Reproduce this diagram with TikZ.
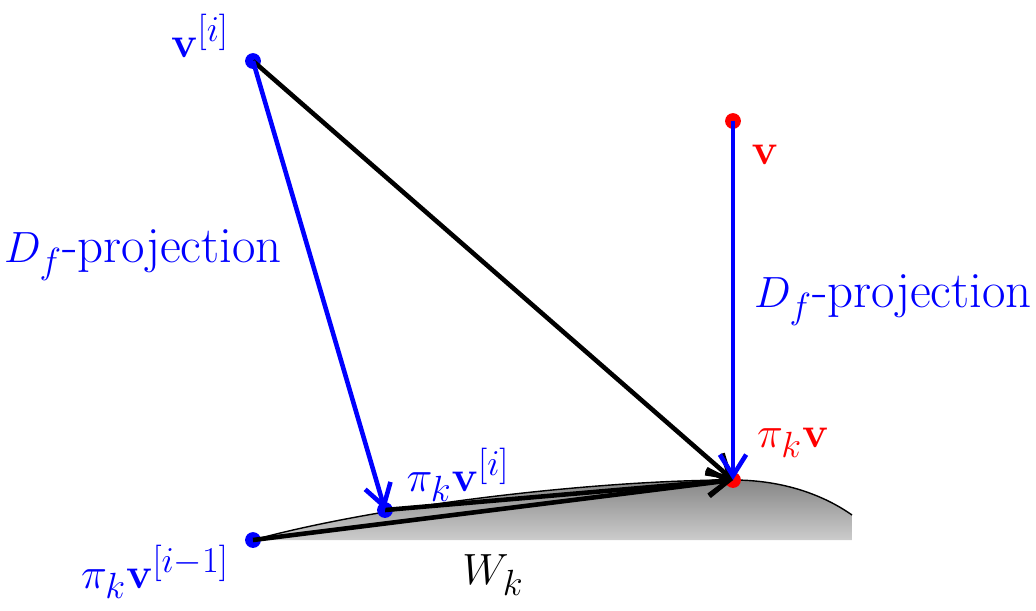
\documentclass[tikz,border=0pt]{standalone}
\usepackage{amsmath}
\usetikzlibrary{arrows.meta}
\tikzset{
  dot/.style={circle,fill,inner sep=0pt,minimum size=9pt},
  proj/.style={-{Straight Barb[length=12pt,width=15pt]},blue,line width=2.6pt},
  link/.style={-{Straight Barb[length=12pt,width=15pt]},black,line width=2.6pt},
  lab/.style={font=\fontsize{29}{34}\selectfont}
}
\begin{document}
\begin{tikzpicture}
           [x=0.02cm,y=-0.02cm]
           \useasboundingbox (0,0) rectangle (1036,610);

           % the set W_k
           \shade[top color=gray!95,bottom color=gray!40]
           (253,540) .. controls (385,504) and (600,480) .. (733,480)
           .. controls (785,480) and (825,496) .. (852,515) -- (852,540) -- cycle;
           \draw[line width=0.8pt] (253,540) .. controls (385,504) and (600,480) .. (733,480)
           .. controls (785,480) and (825,496) .. (852,515);

           \node[dot,blue] (vi) at (253,61) {};
           \node[dot,blue] (pivi) at (385,510) {};
           \node[dot,blue] (pivim) at (253,540) {};
           \node[dot,red] (v) at (733,121) {};
           \node[dot,red] (piv) at (733,480) {};

           \draw[link] (vi.center) -- (piv.center);
           \draw[link] (pivim.center) -- (piv.center);
           \draw[link] (pivi.center) -- (piv.center);
           \draw[proj] (vi.center) -- (pivi.center);
           \draw[proj] (v.center) -- (piv.center);

           \node[lab,blue] (lvi) at (200,36) {$\mathbf{v}^{[i]}$};
           \node[lab,red] (lv) at (765,155) {$\mathbf{v}$};
           \node[lab,blue] (lpl) at (143,255) {$D_f$-projection};
           \node[lab,blue] (lpr) at (893,300) {$D_f$-projection};
           \node[lab,blue] (lpivi) at (458,475) {$\pi_k\mathbf{v}^{[i]}$};
           \node[lab,red] (lpiv) at (793,443) {$\pi_k\mathbf{v}$};
           \node[lab,blue] (lpivim) at (155,572) {$\pi_k\mathbf{v}^{[i-1]}$};
           \node[lab] (lW) at (493,575) {$W_k$};
         \end{tikzpicture}
\end{document}
